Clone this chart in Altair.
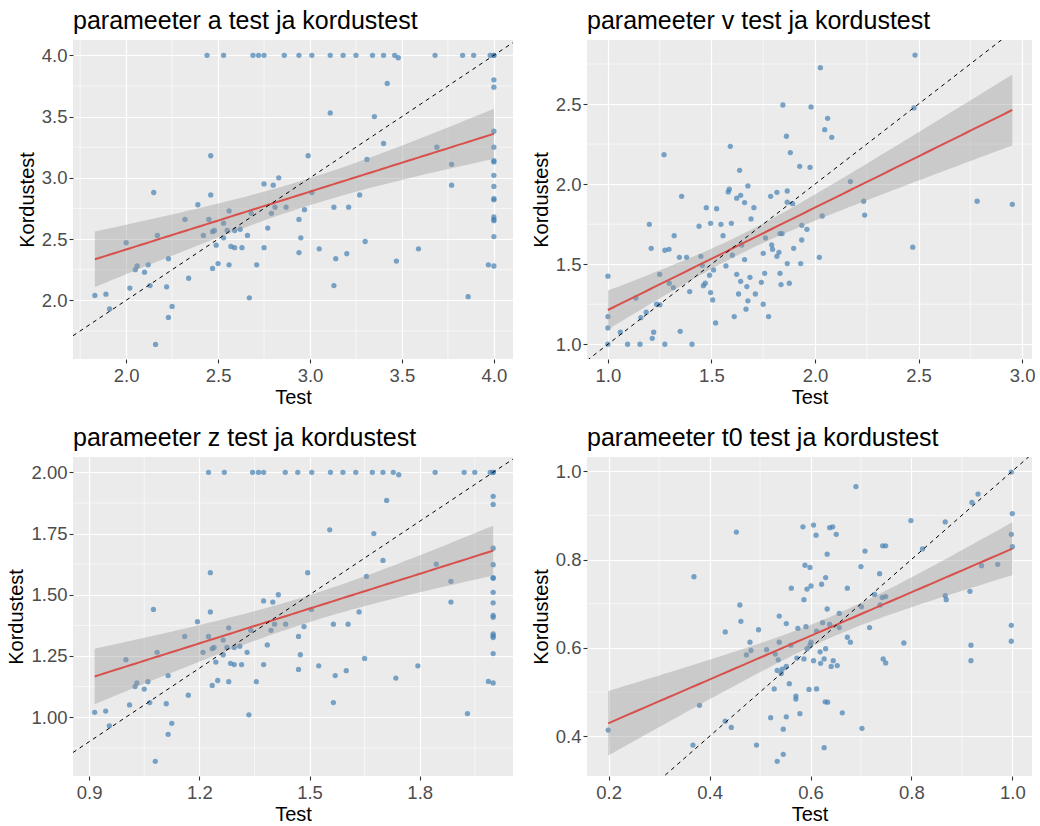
import altair as alt
import numpy as np
import pandas as pd

FONT = "Liberation Sans"

# ---------------- parameter a ----------------
a_test = [2.44, 2.53, 2.69, 2.72, 2.75, 2.86, 2.94, 3.01, 3.11, 3.18, 3.25, 3.34, 3.40, 3.46, 3.48, 3.68, 3.83, 3.89, 3.98, 4.00, 4.00,
          4.00, 4.00, 4.00, 4.00, 4.00, 4.00, 4.00, 4.00, 4.00, 4.00, 4.00, 4.00, 4.00, 4.00, 4.00, 3.97,
          1.83, 1.89, 1.91, 2.00, 2.02, 2.05, 2.06, 2.10, 2.12, 2.13, 2.15, 2.16, 2.17, 2.22, 2.23, 2.23, 2.25, 2.32, 2.34, 2.39,
          2.42, 2.45, 2.46, 2.46, 2.47, 2.47, 2.48, 2.49, 2.50, 2.53, 2.53, 2.55, 2.56, 2.56, 2.57, 2.59, 2.59, 2.62, 2.63, 2.66,
          2.67, 2.68, 2.71, 2.75, 2.75, 2.77, 2.79, 2.80, 2.81, 2.83, 2.87, 2.94, 2.95, 2.94, 2.97, 2.99, 3.01, 3.05, 3.11, 3.13,
          3.13, 3.14, 3.20, 3.21, 3.27, 3.30, 3.31, 3.35, 3.40, 3.42, 3.47, 3.59, 3.69, 3.77, 3.77, 3.86]
a_retest = [4.00, 4.00, 4.00, 4.00, 4.00, 4.00, 4.00, 4.00, 4.00, 4.00, 4.00, 4.00, 4.00, 4.00, 3.98, 4.00, 4.00, 4.00, 4.00, 4.00, 4.00,
            3.80, 3.74, 3.38, 3.25, 3.14, 3.13, 3.02, 2.93, 2.83, 2.82, 2.68, 2.66, 2.65, 2.52, 2.28, 2.29,
            2.04, 2.05, 1.93, 2.47, 2.10, 2.25, 2.28, 2.23, 2.29, 2.12, 2.88, 1.64, 2.53, 2.11, 2.34, 1.86, 1.95, 2.66, 2.18, 2.78,
            2.53, 2.66, 2.86, 3.18, 2.26, 2.56, 2.57, 2.45, 2.30, 2.63, 2.51, 2.57, 2.73, 2.29, 2.44, 2.43, 2.57, 2.58, 2.43, 2.53,
            2.02, 2.71, 2.29, 2.95, 2.43, 2.59, 2.71, 2.94, 2.76, 3.00, 2.76, 2.66, 2.51, 2.39, 2.74, 3.18, 2.88, 2.42, 3.53, 2.76,
            2.12, 2.34, 2.38, 2.76, 2.86, 2.48, 3.15, 3.50, 3.28, 3.77, 2.32, 2.42, 3.25, 3.11, 2.94, 2.03]

# ---------------- parameter v ----------------
v_test = [1.000, 1.000, 1.000, 1.000, 1.060, 1.095, 1.135, 1.155, 1.159, 1.185, 1.200, 1.209, 1.214, 1.221, 1.235, 1.250,
          1.251, 1.271, 1.275, 1.275, 1.295, 1.296, 1.316, 1.320, 1.345, 1.349, 1.356, 1.380, 1.395, 1.406, 1.440, 1.449,
          1.456, 1.461, 1.470, 1.475, 1.491, 1.496, 1.496, 1.506, 1.510, 1.520, 1.525, 1.546, 1.556, 1.570, 1.581, 1.586,
          1.591, 1.596, 1.601, 1.610, 1.622, 1.622, 1.631, 1.636, 1.641, 1.641, 1.646, 1.660, 1.660, 1.667, 1.671, 1.676,
          1.676, 1.686, 1.691, 1.705, 1.712, 1.741, 1.750, 1.750, 1.757, 1.761, 1.776, 1.786, 1.791, 1.795, 1.816, 1.816,
          1.826, 1.831, 1.831, 1.836, 1.841, 1.845, 1.862, 1.866, 1.866, 1.866, 1.876, 1.881, 1.892, 1.897, 1.926, 1.931,
          1.936, 1.936, 1.961, 1.976, 1.981, 2.021, 2.026, 2.035, 2.047, 2.061, 2.081, 2.171, 2.235, 2.240, 2.472, 2.478,
          2.483, 2.783, 2.953]
v_retest = [1.425, 1.173, 1.102, 1.000, 1.075, 1.000, 1.289, 1.000, 1.166, 1.200, 1.749, 1.599, 1.037, 1.075, 1.250, 1.437,
            1.246, 2.184, 1.587, 1.000, 1.593, 1.381, 1.354, 1.678, 1.543, 1.081, 1.924, 1.543, 1.329, 1.000, 1.737, 1.549,
            1.493, 1.366, 1.381, 1.853, 1.431, 1.755, 1.323, 1.277, 1.464, 1.133, 1.847, 1.749, 1.678, 1.489, 1.951, 1.968,
            2.236, 1.755, 1.556, 1.173, 1.912, 1.437, 1.314, 2.086, 1.930, 1.393, 1.620, 1.885, 1.529, 1.219, 1.360, 1.989,
            1.271, 1.418, 1.783, 1.853, 1.314, 1.387, 1.568, 1.250, 1.443, 1.664, 1.173, 1.924, 1.620, 1.593, 1.549, 1.949,
            1.574, 1.443, 1.691, 1.373, 1.691, 2.494, 2.299, 1.957, 1.504, 1.887, 1.381, 2.197, 1.878, 1.599, 2.111, 1.504,
            1.743, 1.651, 1.718, 2.105, 2.482, 1.543, 2.727, 1.801, 2.340, 2.411, 2.292, 2.016, 1.893, 1.807, 1.606, 2.476,
            2.806, 1.893, 1.874]

# ---------------- parameter z ----------------
z_test = [1.225, 1.268, 1.345, 1.361, 1.375, 1.434, 1.468, 1.506, 1.557, 1.591, 1.626, 1.671, 1.700, 1.728, 1.743, 1.842, 1.921, 1.950, 1.992, 2.000, 2.000,
          2.000, 2.000, 2.000, 2.000, 2.000, 2.000, 2.000, 2.000, 2.000, 2.000, 2.000, 2.000, 2.000, 2.000, 2.000, 1.987,
          0.915, 0.945, 0.955, 1.000, 1.010, 1.025, 1.030, 1.050, 1.060, 1.065, 1.075, 1.080, 1.085, 1.110, 1.115, 1.115, 1.125, 1.160, 1.170, 1.195,
          1.210, 1.225, 1.230, 1.230, 1.235, 1.235, 1.240, 1.245, 1.250, 1.265, 1.265, 1.275, 1.280, 1.280, 1.285, 1.295, 1.295, 1.310, 1.315, 1.330,
          1.335, 1.340, 1.355, 1.375, 1.375, 1.385, 1.395, 1.400, 1.405, 1.415, 1.435, 1.470, 1.475, 1.470, 1.485, 1.495, 1.505, 1.525, 1.555, 1.565,
          1.565, 1.570, 1.600, 1.605, 1.635, 1.650, 1.655, 1.675, 1.700, 1.710, 1.735, 1.795, 1.845, 1.885, 1.885, 1.930]
z_retest = [2.000, 2.000, 2.000, 2.000, 2.000, 2.000, 2.000, 2.000, 2.000, 2.000, 2.000, 2.000, 2.000, 2.000, 1.990, 2.000, 2.000, 2.000, 2.000, 2.000, 2.000,
            1.902, 1.869, 1.690, 1.623, 1.570, 1.567, 1.510, 1.467, 1.416, 1.408, 1.340, 1.332, 1.325, 1.260, 1.140, 1.146,
            1.020, 1.025, 0.965, 1.235, 1.050, 1.125, 1.140, 1.115, 1.145, 1.060, 1.440, 0.820, 1.265, 1.055, 1.170, 0.930, 0.975, 1.330, 1.090, 1.390,
            1.265, 1.330, 1.430, 1.590, 1.130, 1.280, 1.285, 1.225, 1.150, 1.315, 1.255, 1.285, 1.365, 1.145, 1.220, 1.215, 1.285, 1.290, 1.215, 1.265,
            1.010, 1.355, 1.145, 1.475, 1.215, 1.295, 1.355, 1.470, 1.380, 1.500, 1.380, 1.330, 1.255, 1.195, 1.370, 1.590, 1.440, 1.210, 1.765, 1.380,
            1.060, 1.170, 1.190, 1.380, 1.430, 1.240, 1.575, 1.750, 1.640, 1.885, 1.160, 1.210, 1.625, 1.555, 1.470, 1.015]

# ---------------- parameter t0 ----------------
t0_test = [0.199, 0.367, 0.369, 0.380, 0.431, 0.431, 0.443, 0.453, 0.460, 0.462, 0.473, 0.480, 0.482, 0.493, 0.497, 0.513,
           0.521, 0.528, 0.530, 0.534, 0.534, 0.536, 0.538, 0.538, 0.542, 0.544, 0.546, 0.546, 0.552, 0.552, 0.552, 0.558,
           0.561, 0.562, 0.571, 0.571, 0.573, 0.575, 0.579, 0.585, 0.587, 0.587, 0.589, 0.591, 0.593, 0.593, 0.597, 0.599,
           0.599, 0.601, 0.601, 0.606, 0.606, 0.611, 0.612, 0.612, 0.619, 0.620, 0.622, 0.624, 0.627, 0.627, 0.629, 0.630,
           0.630, 0.633, 0.633, 0.634, 0.638, 0.638, 0.641, 0.644, 0.645, 0.651, 0.653, 0.657, 0.657, 0.663, 0.673, 0.673,
           0.679, 0.690, 0.700, 0.701, 0.702, 0.708, 0.717, 0.727, 0.737, 0.738, 0.742, 0.743, 0.744, 0.749, 0.749, 0.749,
           0.785, 0.799, 0.822, 0.867, 0.867, 0.869, 0.916, 0.918, 0.918, 0.920, 0.932, 0.939, 0.971, 0.998, 1.000, 0.998,
           1.000, 0.998, 0.998]
t0_retest = [0.414, 0.380, 0.761, 0.470, 0.636, 0.434, 0.420, 0.862, 0.697, 0.660, 0.584, 0.613, 0.594, 0.380, 0.641, 0.596,
             0.442, 0.507, 0.586, 0.343, 0.549, 0.573, 0.613, 0.672, 0.542, 0.552, 0.416, 0.359, 0.558, 0.655, 0.444, 0.519,
             0.606, 0.735, 0.484, 0.491, 0.577, 0.644, 0.451, 0.874, 0.709, 0.575, 0.787, 0.648, 0.733, 0.598, 0.506, 0.782,
             0.606, 0.740, 0.613, 0.571, 0.878, 0.855, 0.638, 0.507, 0.591, 0.565, 0.744, 0.657, 0.575, 0.374, 0.478, 0.759,
             0.598, 0.812, 0.688, 0.477, 0.872, 0.653, 0.558, 0.874, 0.571, 0.857, 0.560, 0.646, 0.678, 0.453, 0.624, 0.735,
             0.613, 0.965, 0.784, 0.693, 0.418, 0.819, 0.646, 0.721, 0.768, 0.697, 0.714, 0.831, 0.575, 0.831, 0.716, 0.566,
             0.611, 0.888, 0.824, 0.885, 0.718, 0.709, 0.728, 0.606, 0.571, 0.929, 0.948, 0.786, 0.789, 0.998, 0.904, 0.857,
             0.829, 0.651, 0.615]

BG = "#EBEBEB"


def panel(xs, ys, title, xdom, ydom, xmaj, xminor, ymaj, yminor, xfmt, yfmt, w, h):
    df = pd.DataFrame({"x": xs, "y": ys})
    x = np.asarray(xs, dtype=float)
    y = np.asarray(ys, dtype=float)
    n = len(x)
    b, a = np.polyfit(x, y, 1)
    gx = np.linspace(x.min(), x.max(), 80)
    fit = a + b * gx
    resid = y - (a + b * x)
    s = np.sqrt((resid ** 2).sum() / (n - 2))
    sxx = ((x - x.mean()) ** 2).sum()
    se = s * np.sqrt(1.0 / n + (gx - x.mean()) ** 2 / sxx)
    tq = 1.98
    band = pd.DataFrame({"x": gx, "fit": fit, "lo": fit - tq * se, "hi": fit + tq * se})
    ident = pd.DataFrame({"x": list(xdom), "y": list(xdom)})

    xsc = alt.Scale(domain=list(xdom), nice=False, zero=False)
    ysc = alt.Scale(domain=list(ydom), nice=False, zero=False)
    common = dict(grid=True, gridColor="white", gridWidth=1.2, domain=False,
                  tickColor="#333333", tickSize=4, tickWidth=1.1,
                  labelFont=FONT, labelFontSize=18.5, labelColor="#4D4D4D",
                  titleFont=FONT, titleFontSize=20, titleColor="black",
                  titleFontWeight="normal")
    xax = alt.Axis(values=xmaj, format=xfmt, title="Test", labelPadding=3,
                   titlePadding=3, **common)
    yax = alt.Axis(values=ymaj, format=yfmt, title="Kordustest", labelPadding=2,
                   titlePadding=4, **common)

    xminor_df = pd.DataFrame({"x": xminor})
    yminor_df = pd.DataFrame({"y": yminor})
    minx = alt.Chart(xminor_df).mark_rule(color="white", strokeWidth=0.6).encode(
        x=alt.X("x:Q", scale=xsc, axis=xax))
    miny = alt.Chart(yminor_df).mark_rule(color="white", strokeWidth=0.6).encode(
        y=alt.Y("y:Q", scale=ysc, axis=yax))
    pts = alt.Chart(df).mark_circle(size=28, color="#4682B4", opacity=0.7).encode(
        x=alt.X("x:Q", scale=xsc, axis=xax), y=alt.Y("y:Q", scale=ysc, axis=yax))
    area = alt.Chart(band).mark_area(color="#999999", opacity=0.4).encode(
        x=alt.X("x:Q", scale=xsc, axis=xax), y=alt.Y("lo:Q", scale=ysc, axis=yax), y2="hi:Q")
    line = alt.Chart(band).mark_line(color="#D8504C", strokeWidth=2).encode(
        x=alt.X("x:Q", scale=xsc, axis=xax), y=alt.Y("fit:Q", scale=ysc, axis=yax))
    idl = alt.Chart(ident).mark_line(color="black", strokeWidth=1, strokeDash=[4, 4], clip=True).encode(
        x=alt.X("x:Q", scale=xsc, axis=xax), y=alt.Y("y:Q", scale=ysc, axis=yax))
    return alt.layer(minx, miny, pts, area, line, idl).properties(
        width=w, height=h,
        title=alt.TitleParams(title, anchor="start", font=FONT, fontSize=25,
                              fontWeight="normal", color="black", offset=6, frame="group"))


pa = panel(a_test, a_retest, "parameeter a test ja kordustest", (1.711, 4.104), (1.521, 4.125),
           [2.0, 2.5, 3.0, 3.5, 4.0], [1.75, 2.25, 2.75, 3.25, 3.75],
           [2.0, 2.5, 3.0, 3.5, 4.0], [1.75, 2.25, 2.75, 3.25, 3.75], ".1f", ".1f", 440, 319)
pv = panel(v_test, v_retest, "parameeter v test ja kordustest", (0.899, 3.048), (0.908, 2.90),
           [1.0, 1.5, 2.0, 2.5, 3.0], [1.25, 1.75, 2.25, 2.75],
           [1.0, 1.5, 2.0, 2.5], [1.25, 1.75, 2.25, 2.75], ".1f", ".1f", 445, 319)
pz = panel(z_test, z_retest, "parameeter z test ja kordustest", (0.856, 2.054), (0.760, 2.0625),
           [0.9, 1.2, 1.5, 1.8], [1.05, 1.35, 1.65, 1.95],
           [1.0, 1.25, 1.5, 1.75, 2.0], [0.875, 1.125, 1.375, 1.625, 1.875], ".1f", ".2f", 440, 319)
pt = panel(t0_test, t0_retest, "parameeter t0 test ja kordustest", (0.157, 1.039), (0.310, 1.032),
           [0.2, 0.4, 0.6, 0.8, 1.0], [0.3, 0.5, 0.7, 0.9],
           [0.4, 0.6, 0.8, 1.0], [0.5, 0.7, 0.9], ".1f", ".1f", 445, 319)

chart = alt.concat(pa, pv, pz, pt, columns=2,
                   spacing=alt.RowColnumber(row=17, column=17)).properties(
    padding={"left": 6, "top": 8, "right": 0, "bottom": 0},
    background="white",
).configure_view(fill=BG, stroke=None)

chart.save("out.html", embed_options={"renderer": "svg", "actions": False})
